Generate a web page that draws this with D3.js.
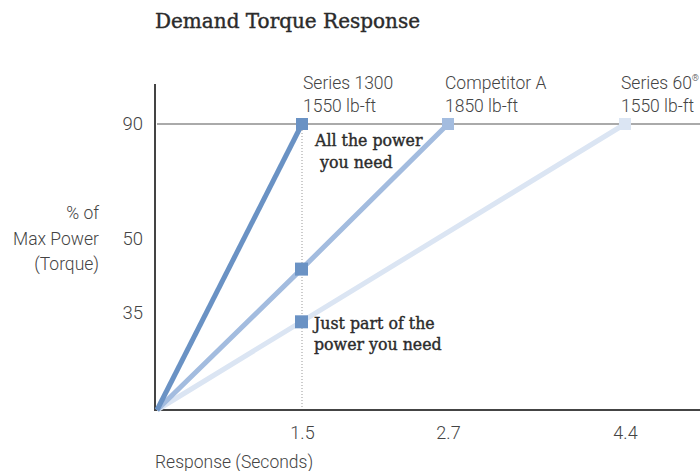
<!DOCTYPE html>
<html>
<head>
<meta charset="utf-8">
<script src="https://cdn.jsdelivr.net/npm/d3@7"></script>
<style>
  body { margin: 0; background: #fff; }
  svg text { font-family: Roboto, "Noto Sans", sans-serif; }
</style>
</head>
<body>
<div id="chart"></div>
<script>
// series and their values
let names = ["Series 1300", "Competitor A", "Series 60"],
    torque = ["1550 lb-ft", "1850 lb-ft", "1550 lb-ft"],
    colors = ["#6a92c4", "#a3bcdf", "#dbe5f3"],
    s1300 = [[0, 0], [1.5, 90]],
    compA = [[0, 0], [1.5, 44], [2.7, 90]],
    s60 = [[0, 0], [1.5, 32], [4.4, 90]],
    xTicks = [1.5, 2.7, 4.4],
    yTicks = [90, 50, 35],
    yLabel = ["% of", "Max Power", "(Torque)"],
    notes = [["All the power", " you need"], ["Just part of the", "power you need"]];

let width = 700, height = 471,
    margin = ({top: 84, right: 0, bottom: 61, left: 157});

// the original axes are not evenly spaced, so piecewise scales
let x = d3.scaleLinear()
    .domain([0, 1.5, 2.7, 4.4])
    .range([margin.left, 302, 448, 625]);
let y = d3.scaleLinear()
    .domain([0, 35, 50, 90])
    .range([height - margin.bottom, 313, 239, 124]);

const svg = d3.select("#chart").append("svg")
    .attr("width", width)
    .attr("height", height);

svg.append("text")
    .attr("x", 155).attr("y", 28)
    .style("font-family", "'DejaVu Serif', serif")
    .attr("font-size", 20)
    .attr("fill", "#2b2b2b")
    .attr("stroke", "#2b2b2b").attr("stroke-width", 0.4)
    .text("Demand Torque Response");

// 90% grid line
svg.append("line")
    .attr("x1", margin.left).attr("x2", width)
    .attr("y1", y(90)).attr("y2", y(90))
    .attr("stroke", "#aaa").attr("stroke-width", 2);

// dotted guide at 1.5 s
svg.append("line")
    .attr("x1", x(1.5)).attr("x2", x(1.5))
    .attr("y1", y(90)).attr("y2", y(0))
    .attr("stroke", "#999").attr("stroke-width", 1)
    .attr("stroke-dasharray", "1,2");

let yAxis = g => g
    .attr("transform", `translate(${margin.left - 2},0)`)
    .call(d3.axisLeft(y).tickValues(yTicks).tickSize(0).tickPadding(12))
    .call(g => g.select(".domain").remove())
    .call(g => g.selectAll(".tick text")
        .attr("font-size", 18.5).attr("fill", "#444").attr("font-weight", 300)
        .style("font-family", "Roboto, sans-serif"));
svg.append("g").call(yAxis);

let xAxis = g => g
    .attr("transform", `translate(0,${y(0)})`)
    .call(d3.axisBottom(x).tickValues(xTicks).tickSize(0).tickPadding(16))
    .call(g => g.select(".domain").remove())
    .call(g => g.selectAll(".tick text")
        .attr("font-size", 18).attr("fill", "#444").attr("font-weight", 300)
        .style("font-family", "Roboto, sans-serif"));
svg.append("g").call(xAxis);

// axis lines
svg.append("line")
    .attr("x1", margin.left - 2).attr("x2", margin.left - 2)
    .attr("y1", margin.top).attr("y2", y(0) + 1)
    .attr("stroke", "#444").attr("stroke-width", 2);
svg.append("line")
    .attr("x1", margin.left - 3).attr("x2", width)
    .attr("y1", y(0)).attr("y2", y(0))
    .attr("stroke", "#444").attr("stroke-width", 2);

let line = d3.line().x(d => x(d[0])).y(d => y(d[1]));
let lines = [s1300, compA, s60];

svg.append("g")
    .selectAll("path")
    .data(lines.slice().reverse())
    .join("path")
        .attr("d", line)
        .attr("fill", "none")
        .attr("stroke", (d, i) => colors[2 - i])
        .attr("stroke-width", 5);

// end markers
let ms = 12;
svg.append("g")
    .selectAll("rect")
    .data(lines)
    .join("rect")
        .attr("x", d => x(d[d.length - 1][0]) - ms / 2)
        .attr("y", d => y(d[d.length - 1][1]) - ms / 2)
        .attr("width", ms).attr("height", ms)
        .attr("fill", (d, i) => colors[i]);

// mid markers at 1.5 s
svg.append("g")
    .selectAll("rect")
    .data([compA[1], s60[1]])
    .join("rect")
        .attr("x", d => x(d[0]) - ms / 2 - 1)
        .attr("y", d => y(d[1]) - ms / 2)
        .attr("width", ms + 1).attr("height", ms + 1)
        .attr("fill", colors[0]);

// series labels
let labX = [1, -3, -4];
let lab = svg.append("g")
    .selectAll("text")
    .data(lines)
    .join("text")
        .attr("x", (d, i) => x(d[d.length - 1][0]) + labX[i])
        .attr("y", 89)
        .attr("font-size", 17.5).attr("font-weight", 300).attr("fill", "#444");
lab.append("tspan").text((d, i) => names[i]);
lab.filter((d, i) => i == 2).append("tspan")
    .attr("font-size", 9).attr("dy", -8).text("®");
lab.append("tspan")
    .attr("x", (d, i) => x(d[d.length - 1][0]) + labX[i])
    .attr("y", 112)
    .text((d, i) => torque[i]);

// y label
svg.append("text")
    .attr("text-anchor", "end")
    .attr("font-size", 17.5).attr("font-weight", 300).attr("fill", "#444")
    .selectAll("tspan")
    .data(yLabel)
    .join("tspan")
        .attr("x", 99)
        .attr("y", (d, i) => 219 + i * 25.5)
        .text(d => d);

svg.append("text")
    .attr("x", 155).attr("y", 468)
    .attr("font-size", 17.5).attr("font-weight", 300).attr("fill", "#444")
    .text("Response (Seconds)");

// annotations
let notePos = [[[315, 146], [315, 168]], [[314, 329], [314, 350]]];
notes.forEach((n, j) => {
  svg.append("text")
      .style("font-family", "'DejaVu Serif', serif")
      .attr("font-size", 15.8).attr("fill", "#2b2b2b")
      .attr("stroke", "#2b2b2b").attr("stroke-width", 0.4)
      .selectAll("tspan")
      .data(n)
      .join("tspan")
          .attr("x", (d, i) => notePos[j][i][0])
          .attr("y", (d, i) => notePos[j][i][1])
          .style("white-space", "pre")
          .text(d => d);
});
</script>
</body>
</html>
